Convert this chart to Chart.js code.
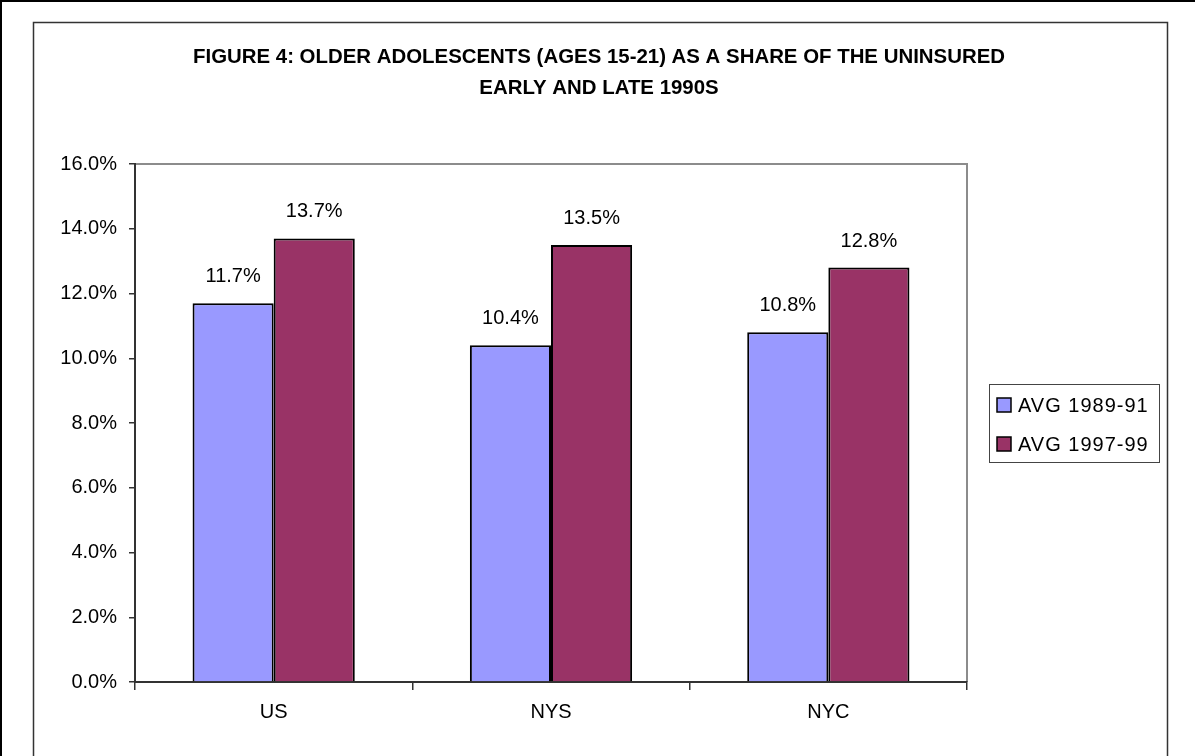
<!DOCTYPE html>
<html>
<head>
<meta charset="utf-8">
<script src="https://cdn.jsdelivr.net/npm/chart.js@4.4.1/dist/chart.umd.min.js"></script>
<style>
  html, body { margin: 0; padding: 0; background: #fff; }
  canvas { display: block; }
</style>
</head>
<body>
<canvas id="uninsuredChart" width="1195" height="756"></canvas>
<script>
var titleLines = ['FIGURE 4: OLDER ADOLESCENTS (AGES 15-21) AS A SHARE OF THE UNINSURED', 'EARLY AND LATE 1990S'];
var categories = ['US', 'NYS', 'NYC'];
var seriesNames = ['AVG 1989-91', 'AVG 1997-99'];
var avg1989to91 = [11.7, 10.4, 10.8];
var avg1997to99 = [13.7, 13.5, 12.8];
var yTickValues = [0, 2, 4, 6, 8, 10, 12, 14, 16];

var FONT = "'Liberation Sans', Arial, sans-serif";

// frame, plot border, value labels, title and legend drawn around the chart
var decorations = {
    id: 'decorations',
    beforeDraw: function(chart) {
        var ctx = chart.ctx;
        ctx.save();
        ctx.fillStyle = '#fff';
        ctx.fillRect(0, 0, chart.width, chart.height);
        // outer page frame (top and left only)
        ctx.strokeStyle = '#000';
        ctx.lineWidth = 2;
        ctx.beginPath();
        ctx.moveTo(1, chart.height);
        ctx.lineTo(1, 1);
        ctx.lineTo(chart.width, 1);
        ctx.stroke();
        // chart box
        ctx.strokeStyle = '#333';
        ctx.lineWidth = 1.5;
        ctx.beginPath();
        ctx.moveTo(33.5, chart.height);
        ctx.lineTo(33.5, 22.5);
        ctx.lineTo(1167.5, 22.5);
        ctx.lineTo(1167.5, chart.height);
        ctx.stroke();
        // plot area top/right border
        var a = chart.chartArea;
        ctx.strokeStyle = '#8c8c8c';
        ctx.lineWidth = 2;
        ctx.beginPath();
        ctx.moveTo(a.left, a.top);
        ctx.lineTo(a.right, a.top);
        ctx.lineTo(a.right, a.bottom);
        ctx.stroke();
        ctx.restore();
    },
    afterDatasetsDraw: function(chart) {
        var ctx = chart.ctx;
        ctx.save();
        ctx.font = '20px ' + FONT;
        ctx.fillStyle = '#000';
        ctx.textAlign = 'center';
        ctx.textBaseline = 'alphabetic';
        chart.data.datasets.forEach(function(ds, di) {
            chart.getDatasetMeta(di).data.forEach(function(bar, i) {
                ctx.fillText(ds.data[i].toFixed(1) + '%', bar.x, bar.y - 21);
            });
        });
        ctx.restore();
    },
    afterDraw: function(chart) {
        var ctx = chart.ctx;
        ctx.save();
        // title, squeezed like the original narrow bold face
        ctx.font = 'bold 21px ' + FONT;
        ctx.fillStyle = '#000';
        ctx.textAlign = 'center';
        var w = ctx.measureText(titleLines[0]).width;
        var sx = 812 / w;
        ctx.translate(599, 0);
        ctx.scale(sx, 1);
        ctx.fillText(titleLines[0], 0, 63);
        ctx.fillText(titleLines[1], 0, 94);
        ctx.restore();

        // legend
        ctx.save();
        ctx.strokeStyle = '#444';
        ctx.lineWidth = 1;
        ctx.strokeRect(989.5, 384.5, 170, 78);
        ctx.font = '20px ' + FONT;
        ctx.textAlign = 'left';
        ctx.textBaseline = 'middle';
        chart.data.datasets.forEach(function(ds, di) {
            var cy = 405 + di * 39;
            ctx.fillStyle = ds.backgroundColor;
            ctx.fillRect(997, cy - 7, 14, 14);
            ctx.strokeStyle = '#000';
            ctx.lineWidth = 1.5;
            ctx.strokeRect(997, cy - 7, 14, 14);
            ctx.fillStyle = '#000';
            ctx.letterSpacing = '1px';
            ctx.fillText(ds.label, 1018, cy + 1);
        });
        ctx.restore();
    }
};

var ctx = document.getElementById('uninsuredChart').getContext('2d');
var uninsuredChart = new Chart(ctx, {
    type: 'bar',
    data: {
        labels: categories,
        datasets: [{
            label: seriesNames[0],
            data: avg1989to91,
            backgroundColor: '#9999ff',
            borderColor: '#000',
            borderWidth: 2
        }, {
            label: seriesNames[1],
            data: avg1997to99,
            backgroundColor: '#993366',
            borderColor: '#000',
            borderWidth: 2
        }]
    },
    options: {
        responsive: false,
        animation: false,
        devicePixelRatio: 1,
        layout: {
            padding: { left: 40, right: 228, top: 164, bottom: 0 }
        },
        plugins: {
            legend: { display: false },
            title: { display: false },
            tooltip: { enabled: false }
        },
        datasets: {
            bar: { categoryPercentage: 0.585, barPercentage: 1.0 }
        },
        scales: {
            x: {
                grid: { drawOnChartArea: false, color: '#333', tickLength: 8, lineWidth: 1.5 },
                border: { display: true, color: '#333', width: 2 },
                ticks: { color: '#000', font: { family: FONT, size: 20 }, padding: 10 },
                afterFit: function(scale) { scale.height = 74; }
            },
            y: {
                min: 0,
                max: 16,
                afterBuildTicks: function(scale) {
                    scale.ticks = yTickValues.map(function(v) { return { value: v }; });
                },
                grid: { drawOnChartArea: false, color: '#333', tickLength: 6, lineWidth: 1.5 },
                border: { display: true, color: '#333', width: 2 },
                ticks: {
                    color: '#000',
                    font: { family: FONT, size: 20 },
                    padding: 12,
                    callback: function(v) { return v.toFixed(1) + '%'; }
                },
                afterFit: function(scale) { scale.width = 95; }
            }
        }
    },
    plugins: [decorations]
});
</script>
</body>
</html>
